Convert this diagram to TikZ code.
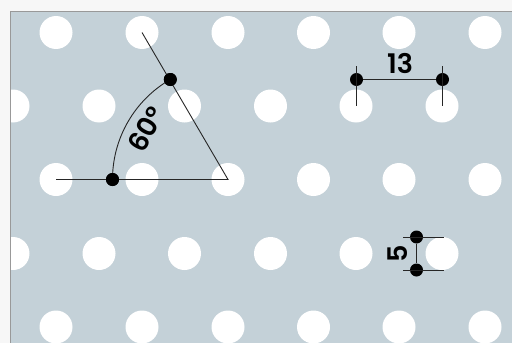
\documentclass[tikz,border=0pt]{standalone}
\usepackage{fontspec}
\setmainfont{Poppins}[BoldFont={Poppins SemiBold}]
\tikzset{
  hole/.style={circle,fill=white,draw=none,minimum size=33pt,inner sep=0pt},
  pin/.style={circle,fill=black,draw=none,minimum size=13pt,inner sep=0pt},
  ln/.style={draw=black!85,line width=0.9pt},
  lab/.style={font=\fontsize{27pt}{27pt}\selectfont\bfseries,text=black,inner sep=0pt}
}
\begin{document}
\begin{tikzpicture}[x=1pt,y=-1pt]
\useasboundingbox (0,0) rectangle (512,343);
\fill[white!97!black] (0,0) rectangle (512,343);
\begin{scope}
\clip (10.5,11.5) rectangle (512,343);
\fill[fill={rgb,255:red,196;green,209;blue,216}] (10.5,11.5) rectangle (512,343);
\foreach \y/\n in {32.5/a,179.5/c,327/e}
  \foreach \x/\m in {56/1,142/2,228/3,313.5/4,399/5,485/6}
    \node[hole] (h\n\m) at (\x,\y) {};
\foreach \y/\n in {106/b,253.5/d}
  \foreach \x/\m in {13/0,99/1,184.5/2,270.5/3,356/4,442/5}
    \node[hole] (h\n\m) at (\x,\y) {};
\end{scope}
\fill[white!97!black] (0,0) rectangle (10,343);
\draw[gray!80,line width=1pt] (10.5,343) -- (10.5,11.5) -- (512,11.5);
% angle
\coordinate (apex) at (228,179.5);
\coordinate (endh) at (56,179.5);
\coordinate (ends) at (142,32.5);
\node[pin] (pa) at (112.5,179.5) {};
\node[pin] (pb) at (170.3,79.5) {};
\draw[ln] (endh) -- (apex) -- (ends);
\draw[ln] (pa.center) arc[start angle=180,end angle=240,radius=115.5];
\node[pin] at (pa) {};
\node[pin] at (pb) {};
\node[lab,rotate=60] (t60) at (146,129) {60°};
% 13
\coordinate (l1) at (356.5,66);
\coordinate (l2) at (356.5,106);
\coordinate (r1) at (442.5,66);
\coordinate (r2) at (442.5,106);
\node[pin] (pl) at (356.5,79.5) {};
\node[pin] (pr) at (442.5,79.5) {};
\draw[ln] (l1) -- (l2);
\draw[ln] (r1) -- (r2);
\draw[ln] (pl) -- (pr);
\node[lab] (t13) at (400,63.5) {13};
% 5
\coordinate (u1) at (403.3,237);
\coordinate (u2) at (444,237);
\coordinate (v1) at (403.3,270);
\coordinate (v2) at (444,270);
\node[pin] (pu) at (416.5,237) {};
\node[pin] (pv) at (416.5,270) {};
\draw[ln] (u1) -- (u2);
\draw[ln] (v1) -- (v2);
\draw[ln] (pu) -- (pv);
\node[lab,rotate=90] (t5) at (398,253.5) {5};
\end{tikzpicture}
\end{document}
